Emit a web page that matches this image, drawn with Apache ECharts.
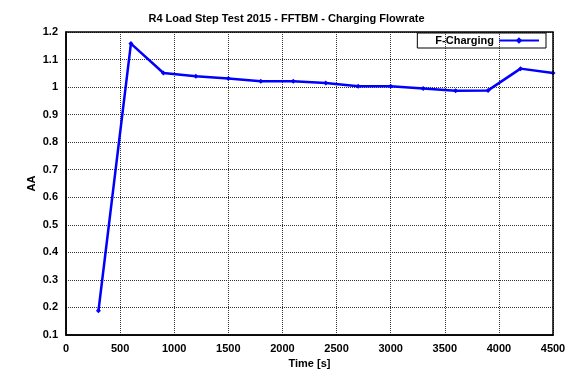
<!DOCTYPE html>
<html>
<head>
<meta charset="utf-8">
<script src="https://cdn.jsdelivr.net/npm/echarts@6.0.0/dist/echarts.min.js"></script>
<style>
  html, body { margin: 0; padding: 0; background: #fff; }
  #chart { width: 573px; height: 378px; }
</style>
</head>
<body>
<div id="chart"></div>
<script>
// time [s] and charging flowrate values
var times = [300, 600, 900, 1200, 1500, 1800, 2100, 2400, 2700, 3000, 3300, 3600, 3900, 4200, 4500];
var charging = [0.188, 1.158, 1.051, 1.039, 1.031, 1.021, 1.021, 1.015, 1.003, 1.003, 0.995, 0.987, 0.988, 1.067, 1.051];

var font = "'Liberation Sans', Arial, sans-serif";
var chart = echarts.init(document.getElementById('chart'));

chart.setOption({
  animation: false,
  title: {
    text: 'R4 Load Step Test 2015 - FFTBM - Charging Flowrate',
    left: 'center',
    top: 8,
    textStyle: { fontFamily: font, fontSize: 11, fontWeight: 'bold', color: '#000' }
  },
  legend: {
    right: 27,
    top: 33,
    align: 'right',
    itemWidth: 40,
    itemHeight: 8,
    itemGap: 6,
    padding: [2, 6, 2, 18],
    borderColor: '#000',
    borderWidth: 1,
    borderRadius: 0,
    textStyle: { fontFamily: font, fontSize: 11, fontWeight: 'bold', color: '#000' }
  },
  grid: { left: 66, right: 20, top: 32, bottom: 43 },
  xAxis: {
    type: 'value',
    min: 0, max: 4500, interval: 500,
    name: 'Time [s]',
    nameLocation: 'middle',
    nameGap: 23,
    nameTextStyle: { fontFamily: font, fontSize: 11, fontWeight: 'bold', color: '#000' },
    axisLine: { lineStyle: { color: '#000', width: 1.5 } },
    axisTick: { show: false },
    axisLabel: {
      fontFamily: font, fontSize: 11, fontWeight: 'bold', color: '#000', margin: 8,
      formatter: function (v) { return String(v); }
    },
    splitLine: { show: true, lineStyle: { color: '#333', type: [1, 1], width: 1 } }
  },
  yAxis: {
    type: 'value',
    min: 0.1, max: 1.2, interval: 0.1,
    name: 'AA',
    nameLocation: 'middle',
    nameGap: 29,
    nameMoveOverlap: false,
    nameTextStyle: { fontFamily: font, fontSize: 11, fontWeight: 'bold', color: '#000' },
    axisLine: { show: true, lineStyle: { color: '#000', width: 1.5 } },
    axisTick: { show: false },
    axisLabel: {
      fontFamily: font, fontSize: 11, fontWeight: 'bold', color: '#000', margin: 8,
      formatter: function (v) { return String(Math.round(v * 10) / 10); }
    },
    splitLine: { show: true, lineStyle: { color: '#333', type: [1, 1], width: 1 } }
  },
  series: [{
    name: 'F-Charging',
    type: 'line',
    data: times.map(function (t, i) { return [t, charging[i]]; }),
    symbol: 'diamond',
    symbolSize: 5,
    showAllSymbol: true,
    lineStyle: { color: '#0000ff', width: 2.5 },
    itemStyle: { color: '#0000ff' }
  }]
});

// close the plot frame on top and right
chart.setOption({
  graphic: [{
    type: 'rect',
    shape: { x: 66, y: 32, width: 487, height: 303 },
    style: { fill: 'none', stroke: '#000', lineWidth: 1.5 },
    silent: true,
    z: 10
  }]
});
</script>
</body>
</html>
